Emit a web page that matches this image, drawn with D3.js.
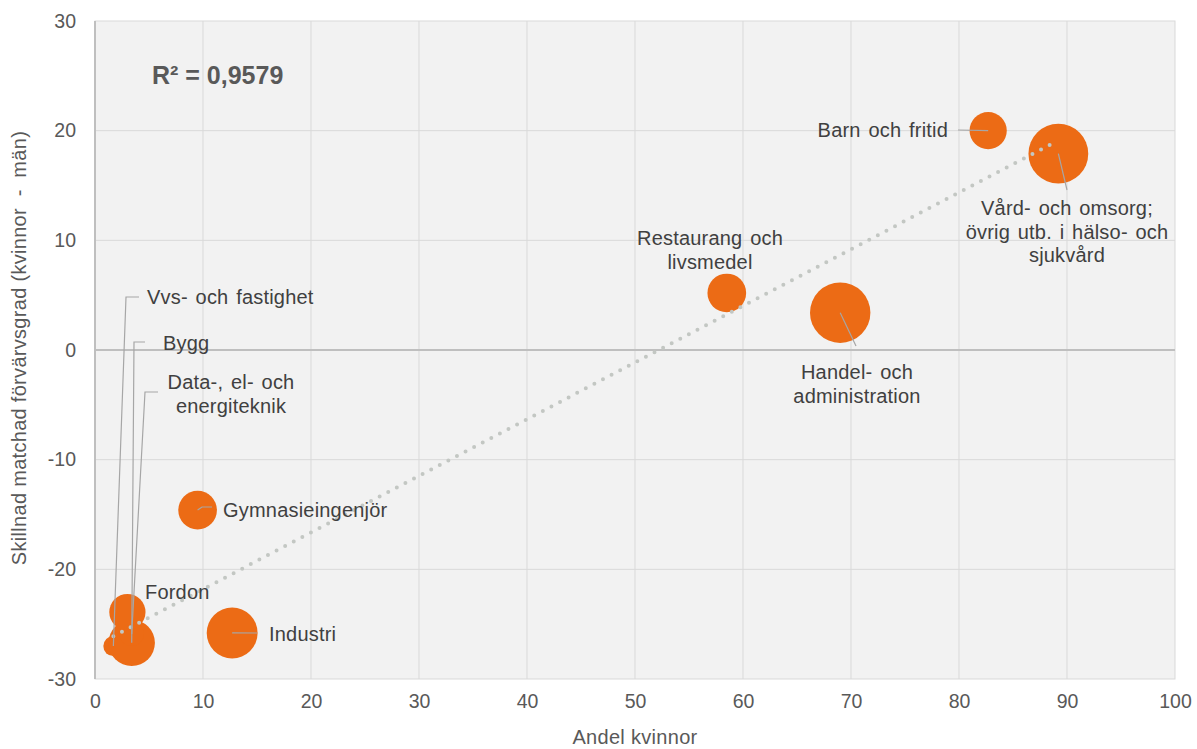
<!DOCTYPE html>
<html><head><meta charset="utf-8">
<script src="https://cdn.jsdelivr.net/npm/d3@7"></script>
<style>
body{margin:0;background:#fff;}
text{font-family:"Liberation Sans",Arial,sans-serif;}
</style></head>
<body>
<svg id="c" width="1197" height="749"></svg>
<script>
// ---- data ----
const names = ["Vvs- och fastighet","Bygg","Data-, el- och energiteknik","Fordon","Gymnasieingenjör","Industri","Restaurang och livsmedel","Handel- och administration","Barn och fritid","Vård- och omsorg; övrig utb. i hälso- och sjukvård"];
const andelKvinnor = [1.7, 3.4, 3.4, 3.0, 9.5, 12.7, 58.5, 69.0, 82.7, 89.2];
const skillnad = [-27.0, -26.7, -25.9, -23.9, -14.6, -25.8, 5.2, 3.4, 20.0, 17.9];
const bubbleSize = [11, 59, 16, 36, 41, 71, 41, 100, 38, 98];
const trendX = [1.7, 88.6];
const trendY = [-26.1, 18.8];
const xTicks = [0,10,20,30,40,50,60,70,80,90,100];
const yTicks = [-30,-20,-10,0,10,20,30];
const r2Text = "R² = 0,9579";

// ---- layout (label placement, px) ----
const labelLayout = [
  {anchor:"start", x:147, y:297, lines:["Vvs- och fastighet"], leader:[[126,297],[139,297]]},
  {anchor:"start", x:163, y:343, lines:["Bygg"], leader:[[134,342],[145,342]]},
  {anchor:"middle", x:231, y:382, lines:["Data-, el- och","energiteknik"], leader:[[145,392],[158,392]]},
  {anchor:"start", x:145, y:592, lines:["Fordon"], leader:null},
  {anchor:"start", x:223, y:510, lines:["Gymnasieingenjör"], leader:[[202,507],[212,507]]},
  {anchor:"start", x:269, y:634, lines:["Industri"], leader:[[257,633]]},
  {anchor:"middle", x:710, y:238, lines:["Restaurang och","livsmedel"], leader:null},
  {anchor:"middle", x:857, y:372, lines:["Handel- och","administration"], leader:[[856,346]]},
  {anchor:"end", x:948, y:130, lines:["Barn och fritid"], leader:[[958,130]]},
  {anchor:"middle", x:1067, y:208, lines:["Vård- och omsorg;","övrig utb. i hälso- och","sjukvård"], leader:[[1067,190]]}
];

const svg = d3.select("#c");
const L=95, R=1175, T=21, B=679;
const x = d3.scaleLinear().domain([0,100]).range([L,R]);
const y = d3.scaleLinear().domain([-30,30]).range([B,T]);
const rScale = d3.scaleSqrt().domain([0,100]).range([0,30.2]);

// plot background
svg.append("rect").attr("x",L).attr("y",T).attr("width",R-L).attr("height",B-T)
  .attr("fill","#f2f2f2").attr("stroke","#d9d9d9").attr("stroke-width",1);

// gridlines
svg.append("g").selectAll("line").data(xTicks.filter(d=>d>0&&d<100)).join("line")
  .attr("x1",d=>x(d)).attr("x2",d=>x(d)).attr("y1",T).attr("y2",B)
  .attr("stroke","#d9d9d9").attr("stroke-width",1);
svg.append("g").selectAll("line").data(yTicks.filter(d=>d>-30&&d<30&&d!==0)).join("line")
  .attr("x1",L).attr("x2",R).attr("y1",d=>y(d)).attr("y2",d=>y(d))
  .attr("stroke","#d9d9d9").attr("stroke-width",1);

// axes lines
svg.append("line").attr("x1",L).attr("x2",R).attr("y1",y(0)).attr("y2",y(0))
  .attr("stroke","#bfbfbf").attr("stroke-width",2);
svg.append("line").attr("x1",L).attr("x2",L).attr("y1",T).attr("y2",B)
  .attr("stroke","#bfbfbf").attr("stroke-width",2);

// tick labels via axes
const yAxis = d3.axisLeft(y).tickValues(yTicks).tickSize(0).tickPadding(19).tickFormat(d=>String(d));
const gy = svg.append("g").attr("transform",`translate(${L},0)`).call(yAxis);
const xAxis = d3.axisBottom(x).tickValues(xTicks).tickSize(0).tickPadding(15).tickFormat(d=>String(d));
const gx = svg.append("g").attr("transform",`translate(0,${B})`).call(xAxis);
[gx,gy].forEach(g=>{
  g.select(".domain").remove();
  g.selectAll("text").attr("font-size",19.5).attr("fill","#595959")
   .attr("font-family","'Liberation Sans',Arial,sans-serif");
});

// bubbles
const pts = names.map((n,i)=>({name:n, x:andelKvinnor[i], y:skillnad[i], s:bubbleSize[i]}));
svg.append("g").selectAll("circle").data(pts).join("circle")
  .attr("cx",d=>x(d.x)).attr("cy",d=>y(d.y)).attr("r",d=>rScale(d.s))
  .attr("fill","#ec6b15");

// trendline
svg.append("line")
  .attr("x1",x(trendX[0])).attr("y1",y(trendY[0]))
  .attr("x2",x(trendX[1])).attr("y2",y(trendY[1]))
  .attr("stroke","#c3c7c3").attr("stroke-width",4).attr("stroke-linecap","round")
  .attr("stroke-dasharray","0 9.7");

// leaders and labels
const lg = svg.append("g");
pts.forEach((p,i)=>{
  const lay = labelLayout[i];
  if(lay.leader){
    const path = [[x(p.x),y(p.y)], ...lay.leader];
    lg.append("path").attr("d",d3.line()(path)).attr("fill","none")
      .attr("stroke","#a6a6a6").attr("stroke-width",1.2);
  }
  const t = lg.append("text").attr("text-anchor",lay.anchor).attr("font-size",20)
    .attr("letter-spacing","0.2px").attr("word-spacing","2px")
    .attr("fill","#404040");
  lay.lines.forEach((ln,j)=>{
    t.append("tspan").attr("x",lay.x).attr("y",lay.y + j*23.5).attr("dy","0.35em").text(ln);
  });
});

// R²
svg.append("text").attr("x",152).attr("y",75).attr("dy","0.35em")
  .attr("font-size",25).attr("font-weight","bold").attr("fill","#595959").text(r2Text);

// axis titles
svg.append("text").attr("x",635).attr("y",737).attr("dy","0.35em").attr("text-anchor","middle")
  .attr("font-size",20).attr("letter-spacing","0.3px").attr("fill","#595959").text("Andel kvinnor");
svg.append("text").attr("transform","translate(19,348) rotate(-90)").attr("dy","0.35em")
  .attr("text-anchor","middle").attr("font-size",20).attr("letter-spacing","0.3px").attr("fill","#595959")
  .style("white-space","pre").text("Skillnad matchad förvärvsgrad (kvinnor  -  män)");
</script>
</body></html>
